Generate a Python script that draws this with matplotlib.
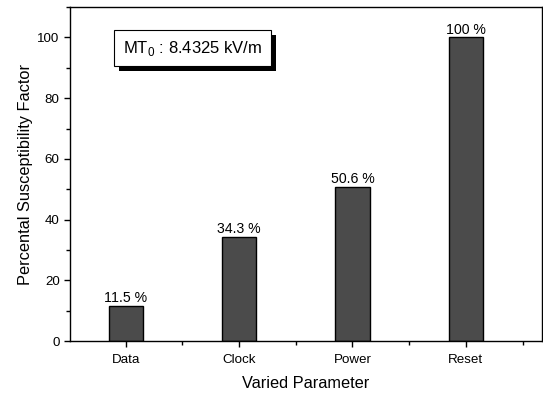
import matplotlib
matplotlib.use("Agg")
import matplotlib.pyplot as plt
import matplotlib.patheffects as pe
from matplotlib.ticker import MultipleLocator, FixedLocator

plt.rcParams['font.family'] = ['Liberation Sans', 'DejaVu Sans']

parameters = ["Data", "Clock", "Power", "Reset"]
susceptibility = [11.5, 34.3, 50.6, 100]
bar_labels = ["11.5 %", "34.3 %", "50.6 %", "100 %"]

fig = plt.figure(figsize=(5.43, 3.94), dpi=100)
ax = fig.add_axes([0.129, 0.1345, 0.869, 0.8475])

x = range(len(parameters))
ax.bar(x, susceptibility, width=0.3, color="#4b4b4b", edgecolor="black", linewidth=1)

# Value labels on top of the bars
for i, (v, lab) in enumerate(zip(susceptibility, bar_labels)):
    ax.text(i, v + 0.3, lab, ha="center", va="bottom", fontsize=10.2)

ax.set_xlim(-0.49, 3.67)
ax.set_ylim(0, 110)
ax.set_xticks(list(x))
ax.set_xticklabels(parameters)
ax.xaxis.set_minor_locator(FixedLocator([-0.5, 0.5, 1.5, 2.5, 3.5]))
ax.yaxis.set_major_locator(MultipleLocator(20))
ax.yaxis.set_minor_locator(MultipleLocator(10))
ax.tick_params(which="both", direction="out", top=False, right=False, labelsize=9.6)
ax.tick_params(axis="x", which="major", pad=5.5)
ax.tick_params(which="major", length=4, width=1)
ax.tick_params(which="minor", length=3, width=1)
for s in ax.spines.values():
    s.set_linewidth(1)

ax.set_xlabel("Varied Parameter", fontsize=11.8, labelpad=7)
ax.set_ylabel("Percental Susceptibility Factor", fontsize=11.8, labelpad=3)

# Info box with drop shadow
t = ax.text(-0.025, 96.5, r"MT$_\mathregular{0}$ : 8.4325 kV/m", fontsize=12, va="center", ha="left",
            bbox=dict(boxstyle="square,pad=0.52", fc="white", ec="black", lw=0.8))
t.get_bbox_patch().set_path_effects([
    pe.SimplePatchShadow(offset=(3.6, -3.6), shadow_rgbFace="black", alpha=1),
    pe.Normal()])

fig.savefig("out.png", dpi=100)
